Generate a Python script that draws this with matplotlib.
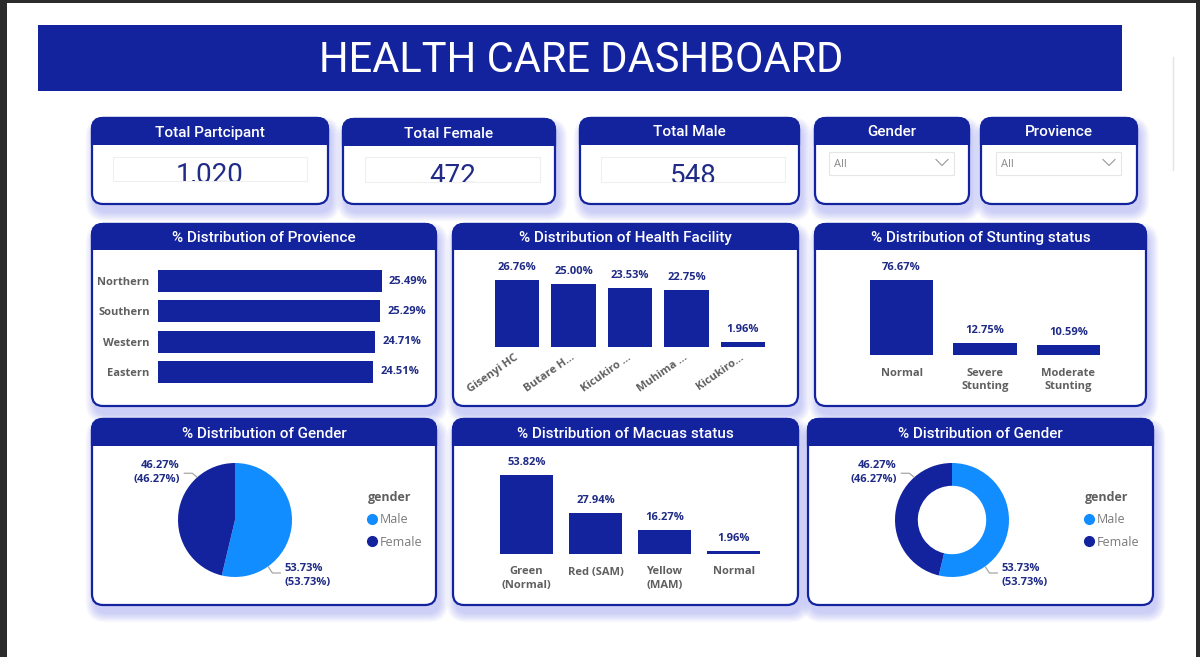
import matplotlib
matplotlib.use('Agg')
import matplotlib.pyplot as plt
from matplotlib.patches import FancyBboxPatch, Rectangle
from matplotlib.lines import Line2D
from matplotlib.transforms import Bbox, TransformedBbox
from matplotlib import font_manager
import numpy as np

# ---------------- data ----------------
title = "HEALTH CARE DASHBOARD"
kpi_titles = ["Total Partcipant", "Total Female", "Total Male"]
kpi_values = [1020, 472, 548]
slicer_titles = ["Gender", "Provience"]
slicer_values = ["All", "All"]

prov_names = ["Northern", "Southern", "Western", "Eastern"]
prov_pct = [25.49, 25.29, 24.71, 24.51]

facility_names = ["Gisenyi HC", "Butare H...", "Kicukiro ...", "Muhima ...", "Kicukiro..."]
facility_pct = [26.76, 25.00, 23.53, 22.75, 1.96]

stunting_names = ["Normal", "Severe\nStunting", "Moderate\nStunting"]
stunting_pct = [76.67, 12.75, 10.59]

muac_names = ["Green\n(Normal)", "Red (SAM)", "Yellow\n(MAM)", "Normal"]
muac_pct = [53.82, 27.94, 16.27, 1.96]

gender_names = ["Male", "Female"]
gender_pct = [53.73, 46.27]

# ---------------- style ----------------
installed = {f.name for f in font_manager.fontManager.ttflist}
COND = 'Liberation Sans Narrow' if 'Liberation Sans Narrow' in installed else 'Roboto'
LBL = 'Open Sans'
NUM = 'Roboto'
DARK = '#13239e'
NAVY = '#1f2b86'
LIGHT = '#118dff'
GRAY = '#5f5f5f'
SHADOW = '#5560e6'

W, H = 1200, 657
fig = plt.figure(figsize=(12, 6.57), dpi=100)
fig.patch.set_facecolor('white')
bg = fig.add_axes([0, 0, 1, 1])
bg.set_xlim(0, W)
bg.set_ylim(H, 0)
bg.axis('off')


def px_axes(x0, y0, x1, y1):
    ax = fig.add_axes([x0 / W, 1 - y1 / H, (x1 - x0) / W, (y1 - y0) / H])
    ax.patch.set_alpha(0)
    return ax


# outer dark frame
bg.add_patch(Rectangle((0, 0), W, 3, fc='#2b2b2b', ec='none', zorder=10))
bg.add_patch(Rectangle((0, 0), 7, H, fc='#2b2b2b', ec='none', zorder=10))
bg.add_patch(Rectangle((1196, 0), 4, H, fc='#2b2b2b', ec='none', zorder=10))
bg.plot([1173, 1173], [57, 170], color='#e4e4e4', lw=1, zorder=1)

# banner
bg.add_patch(Rectangle((38, 25), 1084, 66, fc=DARK, ec='none', zorder=2))
bg.text(581, 60, title, color='white', fontsize=30, family=COND,
        ha='center', va='center', zorder=3)


def card(x0, y0, x1, y1, ttl, hh=27, fs=11, r=11):
    w, h = x1 - x0, y1 - y0
    for i in range(9):
        e = 0.5 + i * 1.1
        bg.add_patch(FancyBboxPatch((x0 + 3 - e, y0 + 8 - e), w + 2 * e, h + 2 * e,
                                    boxstyle=f"round,pad=0,rounding_size={r + e}",
                                    fc=SHADOW, ec='none', alpha=0.035, zorder=1))
    bg.add_patch(FancyBboxPatch((x0, y0), w, h, boxstyle=f"round,pad=0,rounding_size={r}",
                                fc='white', ec=DARK, lw=1.6, zorder=2))
    head = FancyBboxPatch((x0, y0), w, h, boxstyle=f"round,pad=0,rounding_size={r}",
                          fc=DARK, ec=DARK, lw=1.6, zorder=3)
    bg.add_patch(head)
    head.set_clip_path(Rectangle((x0 - 3, y0 - 3), w + 6, hh + 3, transform=bg.transData))
    bg.text((x0 + x1) / 2, y0 + hh / 2 + 1, ttl, color='white', fontsize=fs,
            family=COND, fontweight='medium', ha='center', va='center', zorder=4)


# KPI cards
kpi_boxes = [(92, 118, 328, 204), (343, 119, 555, 204), (580, 118, 799, 204)]
kpi_inner = [(113, 157, 307, 181), (365, 157, 540, 182), (601, 157, 785, 182)]
for (x0, y0, x1, y1), (ix0, iy0, ix1, iy1), t, v in zip(kpi_boxes, kpi_inner, kpi_titles, kpi_values):
    card(x0, y0, x1, y1, t)
    bg.add_patch(Rectangle((ix0, iy0), ix1 - ix0, iy1 - iy0, fc='white', ec='#efefef', lw=0.8, zorder=4))
    txt = bg.text((ix0 + ix1) / 2, iy1 + 1.5, f"{v:,}", color=NAVY, fontsize=20, family=NUM,
                  ha='center', va='baseline', zorder=5)
    txt.set_clip_box(TransformedBbox(Bbox([[ix0, iy0], [ix1, iy1]]), bg.transData))
    txt.set_clip_on(True)

# slicers
slicer_boxes = [(815, 118, 969, 204), (981, 118, 1137, 204)]
slicer_inner = [(829, 152, 954, 175), (996, 152, 1121, 175)]
for (x0, y0, x1, y1), (ix0, iy0, ix1, iy1), t, v in zip(slicer_boxes, slicer_inner, slicer_titles, slicer_values):
    card(x0, y0, x1, y1, t)
    bg.add_patch(Rectangle((ix0, iy0), ix1 - ix0, iy1 - iy0, fc='white', ec='#e6e6e6', lw=0.8, zorder=4))
    bg.text(ix0 + 5, (iy0 + iy1) / 2 + 1, v, color='#888888', fontsize=8, family=LBL,
            ha='left', va='center', zorder=5)
    cx, cy = ix1 - 12, (iy0 + iy1) / 2 - 1
    bg.plot([cx - 6, cx, cx + 6], [cy - 3, cy + 3, cy - 3], color='#999999', lw=0.8, zorder=5)

# chart panels
card(92, 224, 436, 406, "% Distribution of Provience", hh=26)
card(453, 224, 798, 406, "% Distribution of Health Facility", hh=26)
card(815, 224, 1146, 406, "% Distribution of Stunting status", hh=26)
card(92, 419, 436, 605, "% Distribution of Gender")
card(453, 419, 798, 605, "% Distribution of Macuas status")
card(808, 419, 1153, 605, "% Distribution of Gender")

lbl_kw = dict(fontsize=8, fontweight='bold', color=NAVY, family=LBL)
tick_kw = dict(fontsize=8, fontweight='bold', color=GRAY, family=LBL)


def clean(ax):
    for s in ax.spines.values():
        s.set_visible(False)
    ax.tick_params(length=0)


# Provience horizontal bars
ax = px_axes(158, 266, 158 + 30 * 224 / 25.49, 387)
bars = ax.barh(range(len(prov_names)), prov_pct, height=0.73, color=DARK)
ax.set_xlim(0, 30)
ax.set_ylim(len(prov_names) - 0.5, -0.5)
ax.set_yticks(range(len(prov_names)))
ax.set_yticklabels(prov_names, **tick_kw)
ax.set_xticks([])
ax.tick_params(axis='y', pad=6)
ax.bar_label(bars, labels=[f"{v:.2f}%" for v in prov_pct], padding=5, **lbl_kw)
clean(ax)

# Health facility bars
ax = px_axes(488.75, 265, 771.25, 347)
bars = ax.bar(range(len(facility_names)), facility_pct, width=0.78, color=DARK)
ax.set_xlim(-0.5, len(facility_names) - 0.5)
ax.set_ylim(0, 82 * 26.76 / 67)
ax.set_yticks([])
ax.set_xticks(range(len(facility_names)))
ax.set_xticklabels(facility_names, rotation=35, ha='right', va='center', rotation_mode='anchor', **tick_kw)
ax.tick_params(axis='x', pad=7)
ax.bar_label(bars, labels=[f"{v:.2f}%" for v in facility_pct], padding=5, **lbl_kw)
clean(ax)

# Stunting bars
ax = px_axes(859.75, 265, 1110.25, 355)
bars = ax.bar(range(len(stunting_names)), stunting_pct, width=0.755, color=DARK)
ax.set_xlim(-0.5, len(stunting_names) - 0.5)
ax.set_ylim(0, 90 * 76.67 / 75)
ax.set_yticks([])
ax.set_xticks(range(len(stunting_names)))
ax.set_xticklabels(stunting_names, linespacing=1.3, **tick_kw)
ax.tick_params(axis='x', pad=9)
ax.bar_label(bars, labels=[f"{v:.2f}%" for v in stunting_pct], padding=5, **lbl_kw)
clean(ax)

# MUAC bars
ax = px_axes(492, 460, 768, 554)
bars = ax.bar(range(len(muac_names)), muac_pct, width=0.768, color=DARK)
ax.set_xlim(-0.5, len(muac_names) - 0.5)
ax.set_ylim(0, 94 * 53.82 / 79)
ax.set_yticks([])
ax.set_xticks(range(len(muac_names)))
ax.set_xticklabels(muac_names, linespacing=1.3, va='top', **tick_kw)
ax.tick_params(axis='x', pad=9)
ax.bar_label(bars, labels=[f"{v:.2f}%" for v in muac_pct], padding=5, **lbl_kw)
clean(ax)


# Gender pie & donut
def gender_chart(cx, cy, r, donut, leg_xy):
    ax = px_axes(cx - r, cy - r, cx + r, cy + r)
    wp = dict(width=0.4, edgecolor='none') if donut else dict(edgecolor='none')
    ax.pie(gender_pct, colors=[LIGHT, DARK], startangle=90, counterclock=False,
           radius=1, wedgeprops=wp)
    ax.set_xlim(-1, 1)
    ax.set_ylim(-1, 1)
    ax.set_aspect('equal')
    ax.axis('off')
    # Female label (upper left), Male label (lower right)
    specs = [(gender_pct[1], 131.5, -1, 0.82), (gender_pct[0], -54.5, 1, -0.93)]
    for val, ang, side, ly in specs:
        a = np.deg2rad(ang)
        p0 = (np.cos(a), np.sin(a))
        p1 = (1.13 * np.cos(a), ly)
        p2 = (p1[0] + side * 0.15, ly)
        ax.plot([p0[0], p1[0], p2[0]], [p0[1], p1[1], p2[1]], color='#a6a6a6', lw=0.9,
                clip_on=False, solid_capstyle='butt')
        ax.text(p2[0] + side * 0.07, ly - (0.05 if side > 0 else -0.01), f"{val:.2f}%\n({val:.2f}%)",
                ha='right' if side < 0 else 'left', va='center', linespacing=1.35,
                multialignment='right' if side < 0 else 'left', clip_on=False, **lbl_kw)
    handles = [Line2D([], [], marker='o', ls='', color=c, markersize=7) for c in (LIGHT, DARK)]
    leg = ax.legend(handles, gender_names, title='gender', loc='upper left',
                    bbox_to_anchor=leg_xy, bbox_transform=bg.transData, frameon=False,
                    handlelength=0.7, handletextpad=0.25, labelspacing=0.75, borderpad=0,
                    borderaxespad=0, alignment='left',
                    prop=dict(family=LBL, size=9))
    leg.get_title().set_fontweight('bold')
    leg.get_title().set_color(GRAY)
    leg.get_title().set_family(LBL)
    leg.get_title().set_fontsize(9)
    for t in leg.get_texts():
        t.set_color('#7a7a7a')


gender_chart(235, 520, 57, False, (368, 491))
gender_chart(952, 520, 57, True, (1085, 491))

fig.savefig('out.png', dpi=100)
